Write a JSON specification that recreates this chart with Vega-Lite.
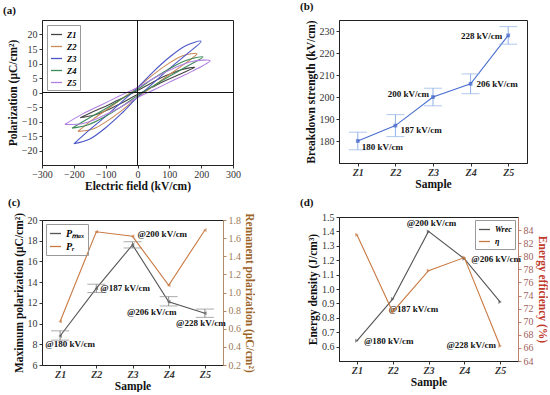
{
 "$schema": "https://vega.github.io/schema/vega-lite/v6.json",
 "background": "white",
 "padding": {"left": 2, "top": 0, "right": 0, "bottom": 0},
 "config": {
  "font": "Liberation Serif",
  "view": {"stroke": "#222", "strokeWidth": 1},
  "axis": {"grid": false, "labelFont": "Liberation Serif", "labelFontSize": 10, "labelColor": "#333", "titleFont": "Liberation Serif", "titleFontSize": 11.5, "titleFontWeight": "bold", "titleColor": "#111", "tickSize": 3, "tickColor": "#333", "domainColor": "#222", "labelPadding": 2, "titlePadding": 3, "labelOverlap": false, "labelFlush": false},
  "axisX": {"labelPadding": 1, "titlePadding": 1},
  "title": {"font": "Liberation Serif", "fontSize": 11, "fontWeight": "bold", "anchor": "start", "frame": "group", "offset": 2, "color": "#111"},
  "legend": {"labelFont": "Liberation Serif", "labelFontSize": 8.5, "labelFontWeight": "bold", "labelFontStyle": "italic", "strokeColor": "#999", "padding": 3, "rowPadding": 1, "symbolType": "stroke", "symbolStrokeWidth": 1.3, "symbolSize": 120}
 },
 "datasets": {
  "loops": [
   {"sample":"Z1","i":0,"E":-180,"P":-8.7},{"sample":"Z1","i":1,"E":-135,"P":-7.78},{"sample":"Z1","i":2,"E":-90,"P":-5.82},{"sample":"Z1","i":3,"E":-45,"P":-3.4},{"sample":"Z1","i":4,"E":0,"P":-0.68},{"sample":"Z1","i":5,"E":45,"P":1.77},{"sample":"Z1","i":6,"E":90,"P":4.19},{"sample":"Z1","i":7,"E":135,"P":6.42},{"sample":"Z1","i":8,"E":180,"P":8.7},{"sample":"Z1","i":9,"E":135,"P":7.78},{"sample":"Z1","i":10,"E":90,"P":5.82},{"sample":"Z1","i":11,"E":45,"P":3.4},{"sample":"Z1","i":12,"E":0,"P":0.68},{"sample":"Z1","i":13,"E":-45,"P":-1.77},{"sample":"Z1","i":14,"E":-90,"P":-4.19},{"sample":"Z1","i":15,"E":-135,"P":-6.42},{"sample":"Z1","i":16,"E":-180,"P":-8.7},
   {"sample":"Z2","i":0,"E":-187,"P":-13.4},{"sample":"Z2","i":1,"E":-140,"P":-12.6},{"sample":"Z2","i":2,"E":-93.5,"P":-9.71},{"sample":"Z2","i":3,"E":-47,"P":-5.98},{"sample":"Z2","i":4,"E":0,"P":-1.67},{"sample":"Z2","i":5,"E":47,"P":1.98},{"sample":"Z2","i":6,"E":93.5,"P":5.71},{"sample":"Z2","i":7,"E":140,"P":9.26},{"sample":"Z2","i":8,"E":187,"P":13.4},{"sample":"Z2","i":9,"E":140,"P":12.6},{"sample":"Z2","i":10,"E":93.5,"P":9.71},{"sample":"Z2","i":11,"E":47,"P":5.98},{"sample":"Z2","i":12,"E":0,"P":1.67},{"sample":"Z2","i":13,"E":-47,"P":-1.98},{"sample":"Z2","i":14,"E":-93.5,"P":-5.71},{"sample":"Z2","i":15,"E":-140,"P":-9.26},{"sample":"Z2","i":16,"E":-187,"P":-13.4},
   {"sample":"Z3","i":0,"E":-200,"P":-17.7},{"sample":"Z3","i":1,"E":-150,"P":-16.07},{"sample":"Z3","i":2,"E":-100,"P":-12.14},{"sample":"Z3","i":3,"E":-50,"P":-7.21},{"sample":"Z3","i":4,"E":0,"P":-1.63},{"sample":"Z3","i":5,"E":50,"P":3.3},{"sample":"Z3","i":6,"E":100,"P":8.22},{"sample":"Z3","i":7,"E":150,"P":12.81},{"sample":"Z3","i":8,"E":200,"P":17.7},{"sample":"Z3","i":9,"E":150,"P":16.07},{"sample":"Z3","i":10,"E":100,"P":12.14},{"sample":"Z3","i":11,"E":50,"P":7.21},{"sample":"Z3","i":12,"E":0,"P":1.63},{"sample":"Z3","i":13,"E":-50,"P":-3.3},{"sample":"Z3","i":14,"E":-100,"P":-8.22},{"sample":"Z3","i":15,"E":-150,"P":-12.81},{"sample":"Z3","i":16,"E":-200,"P":-17.7},
   {"sample":"Z4","i":0,"E":-206,"P":-12.3},{"sample":"Z4","i":1,"E":-154.5,"P":-11.12},{"sample":"Z4","i":2,"E":-103,"P":-8.38},{"sample":"Z4","i":3,"E":-51.5,"P":-4.96},{"sample":"Z4","i":4,"E":0,"P":-1.09},{"sample":"Z4","i":5,"E":51.5,"P":2.34},{"sample":"Z4","i":6,"E":103,"P":5.76},{"sample":"Z4","i":7,"E":154.5,"P":8.94},{"sample":"Z4","i":8,"E":206,"P":12.3},{"sample":"Z4","i":9,"E":154.5,"P":11.12},{"sample":"Z4","i":10,"E":103,"P":8.38},{"sample":"Z4","i":11,"E":51.5,"P":4.96},{"sample":"Z4","i":12,"E":0,"P":1.09},{"sample":"Z4","i":13,"E":-51.5,"P":-2.34},{"sample":"Z4","i":14,"E":-103,"P":-5.76},{"sample":"Z4","i":15,"E":-154.5,"P":-8.94},{"sample":"Z4","i":16,"E":-206,"P":-12.3},
   {"sample":"Z5","i":0,"E":-228,"P":-11.0},{"sample":"Z5","i":1,"E":-171,"P":-10.66},{"sample":"Z5","i":2,"E":-114,"P":-8.35},{"sample":"Z5","i":3,"E":-57,"P":-5.29},{"sample":"Z5","i":4,"E":0,"P":-1.69},{"sample":"Z5","i":5,"E":57,"P":1.24},{"sample":"Z5","i":6,"E":114,"P":4.3},{"sample":"Z5","i":7,"E":171,"P":7.28},{"sample":"Z5","i":8,"E":228,"P":11.0},{"sample":"Z5","i":9,"E":171,"P":10.66},{"sample":"Z5","i":10,"E":114,"P":8.35},{"sample":"Z5","i":11,"E":57,"P":5.29},{"sample":"Z5","i":12,"E":0,"P":1.69},{"sample":"Z5","i":13,"E":-57,"P":-1.24},{"sample":"Z5","i":14,"E":-114,"P":-4.3},{"sample":"Z5","i":15,"E":-171,"P":-7.28},{"sample":"Z5","i":16,"E":-228,"P":-11.0}
  ],
  "samples": [
   {"s":"Z1","bd":180,"bdlo":176,"bdhi":184,"bdl":"180 kV/cm","pmax":8.8,"plo":8.4,"phi":9.3,"pr":0.68,"w":0.64,"eta":83.3,"at":"@180 kV/cm"},
   {"s":"Z2","bd":187,"bdlo":182,"bdhi":192,"bdl":"187 kV/cm","pmax":13.4,"plo":13.0,"phi":13.8,"pr":1.67,"w":0.93,"eta":71.5,"at":"@187 kV/cm"},
   {"s":"Z3","bd":200,"bdlo":196,"bdhi":204,"bdl":"200 kV/cm","pmax":17.6,"plo":17.3,"phi":17.9,"pr":1.62,"w":1.4,"eta":77.8,"at":"@200 kV/cm"},
   {"s":"Z4","bd":206,"bdlo":201.5,"bdhi":210.5,"bdl":"206 kV/cm","pmax":12.1,"plo":11.7,"phi":12.6,"pr":1.08,"w":1.21,"eta":79.8,"at":"@206 kV/cm"},
   {"s":"Z5","bd":228,"bdlo":224,"bdhi":232,"bdl":"228 kV/cm","pmax":11.0,"plo":10.6,"phi":11.4,"pr":1.69,"w":0.91,"eta":66.3,"at":"@228 kV/cm"}
  ]
 },
 "spacing": 44,
 "resolve": {"scale": {"color": "independent"}, "legend": {"color": "independent"}},
 "hconcat": [
  {
   "bounds": "flush",
   "spacing": 55,
   "resolve": {"scale": {"color": "independent"}, "legend": {"color": "independent"}},
   "vconcat": [
    {
     "title": {"text": "(a)", "dx": -39, "offset": 4},
     "width": 191, "height": 145,
     "data": {"name": "loops"},
     "layer": [
      {"mark": {"type": "line", "strokeWidth": 1.1, "interpolate": "catmull-rom"},
       "encoding": {
        "x": {"field": "E", "type": "quantitative", "title": "Electric field (kV/cm)", "scale": {"domain": [-300, 300]}, "axis": {"values": [-300,-200,-100,0,100,200,300], "tickCount": 30, "format": "d"}},
        "y": {"field": "P", "type": "quantitative", "title": "Polarization (μC/cm²)", "scale": {"domain": [-22.5, 22.5]}, "axis": {"values": [-20,-15,-10,-5,0,5,10,15,20], "tickCount": 30, "format": "d"}},
        "color": {"field": "sample", "type": "nominal", "scale": {"domain": ["Z1","Z2","Z3","Z4","Z5"], "range": ["#444444","#c98b5a","#4a55c8","#3d8a5a","#b07fe0"]}, "legend": {"orient": "top-left", "offset": 5, "title": null}},
        "order": {"field": "i", "type": "quantitative"}
       }},
      {"mark": {"type": "rule", "color": "#111", "strokeWidth": 1}, "encoding": {"x": {"datum": 0, "type": "quantitative", "title": "Electric field (kV/cm)"}}},
      {"mark": {"type": "rule", "color": "#111", "strokeWidth": 1}, "encoding": {"y": {"datum": 0, "type": "quantitative", "title": "Polarization (μC/cm²)"}}}
     ]
    },
    {
     "title": {"text": "(c)", "dx": -34, "offset": 4},
     "width": 181, "height": 145,
     "data": {"name": "samples"},
     "resolve": {"scale": {"y": "independent"}},
     "layer": [
      {"layer": [
        {"mark": {"type": "line", "color": "#555555", "strokeWidth": 1.1},
         "encoding": {
          "x": {"field": "s", "type": "ordinal", "title": "Sample", "scale": {"type": "point", "padding": 0.5}, "axis": {"labelAngle": 0, "labelFontStyle": "italic", "labelFontWeight": "bold"}},
          "y": {"field": "pmax", "type": "quantitative", "title": "Maximum polarization (μC/cm²)", "scale": {"domain": [6, 20]}, "axis": {"values": [6,8,10,12,14,16,18,20], "tickCount": 30, "format": "d"}},
          "color": {"datum": "Pmax", "scale": {"domain": ["Pmax","Pr"], "range": ["#555555","#c87941"]}, "legend": {"orient": "top-left", "offset": 4, "title": null, "labelExpr": "datum.label === 'Pmax' ? 'Pₘₐₓ' : 'Pᵣ'", "labelFontSize": 10}}
         }},
        {"mark": {"type": "errorbar", "ticks": true, "color": "#888888"},
         "encoding": {"x": {"field": "s", "type": "ordinal", "title": "Sample"}, "y": {"field": "plo", "type": "quantitative", "title": "Maximum polarization (μC/cm²)"}, "y2": {"field": "phi"}}},
        {"mark": {"type": "point", "shape": "triangle-left", "filled": true, "size": 16, "color": "#555555"},
         "encoding": {"x": {"field": "s", "type": "ordinal", "title": "Sample"}, "y": {"field": "pmax", "type": "quantitative", "title": "Maximum polarization (μC/cm²)"}}},
        {"transform": [{"filter": "datum.s === 'Z1'"}], "mark": {"type": "text", "align": "center", "dx": 10, "dy": 8, "fontSize": 9, "fontWeight": "bold", "color": "#111"},
         "encoding": {"x": {"field": "s", "type": "ordinal", "title": "Sample"}, "y": {"field": "pmax", "type": "quantitative", "title": "Maximum polarization (μC/cm²)"}, "text": {"field": "at"}}},
        {"transform": [{"filter": "datum.s === 'Z2'"}], "mark": {"type": "text", "align": "left", "dx": 4, "dy": 0, "fontSize": 9, "fontWeight": "bold", "color": "#111"},
         "encoding": {"x": {"field": "s", "type": "ordinal", "title": "Sample"}, "y": {"field": "pmax", "type": "quantitative", "title": "Maximum polarization (μC/cm²)"}, "text": {"field": "at"}}},
        {"transform": [{"filter": "datum.s === 'Z3'"}], "mark": {"type": "text", "align": "left", "dx": 5, "dy": -11, "fontSize": 9, "fontWeight": "bold", "color": "#111"},
         "encoding": {"x": {"field": "s", "type": "ordinal", "title": "Sample"}, "y": {"field": "pmax", "type": "quantitative", "title": "Maximum polarization (μC/cm²)"}, "text": {"field": "at"}}},
        {"transform": [{"filter": "datum.s === 'Z4'"}], "mark": {"type": "text", "align": "center", "dx": -17, "dy": 10, "fontSize": 9, "fontWeight": "bold", "color": "#111"},
         "encoding": {"x": {"field": "s", "type": "ordinal", "title": "Sample"}, "y": {"field": "pmax", "type": "quantitative", "title": "Maximum polarization (μC/cm²)"}, "text": {"field": "at"}}},
        {"transform": [{"filter": "datum.s === 'Z5'"}], "mark": {"type": "text", "align": "center", "dx": -4, "dy": 10, "fontSize": 9, "fontWeight": "bold", "color": "#111"},
         "encoding": {"x": {"field": "s", "type": "ordinal", "title": "Sample"}, "y": {"field": "pmax", "type": "quantitative", "title": "Maximum polarization (μC/cm²)"}, "text": {"field": "at"}}}
      ]},
      {"layer": [
        {"mark": {"type": "line", "strokeWidth": 1.1},
         "encoding": {
          "x": {"field": "s", "type": "ordinal", "title": "Sample"},
          "y": {"field": "pr", "type": "quantitative", "title": "Remanent polarization (μC/cm²)", "scale": {"domain": [0.2, 1.8]}, "axis": {"orient": "right", "values": [0.2,0.4,0.6,0.8,1.0,1.2,1.4,1.6,1.8], "tickCount": 30, "format": ".1f", "labelColor": "#9a7a5a", "titleColor": "#9b6326", "tickColor": "#b08a6a", "domainColor": "#b08a6a"}},
          "color": {"datum": "Pr"}
         }},
        {"mark": {"type": "point", "shape": "triangle-left", "filled": true, "size": 16, "color": "#c87941"},
         "encoding": {"x": {"field": "s", "type": "ordinal", "title": "Sample"}, "y": {"field": "pr", "type": "quantitative", "title": "Remanent polarization (μC/cm²)"}}}
      ]}
     ]
    }
   ]
  },
  {
   "bounds": "flush",
   "spacing": 54,
   "resolve": {"scale": {"color": "independent"}, "legend": {"color": "independent"}},
   "vconcat": [
    {
     "title": {"text": "(b)", "dx": -39, "offset": 8},
     "width": 188, "height": 143,
     "data": {"name": "samples"},
     "layer": [
      {"mark": {"type": "line", "color": "#4a6fd0", "strokeWidth": 1.1},
       "encoding": {
        "x": {"field": "s", "type": "ordinal", "title": "Sample", "scale": {"type": "point", "padding": 0.5}, "axis": {"labelAngle": 0, "labelFontStyle": "italic", "labelFontWeight": "bold"}},
        "y": {"field": "bd", "type": "quantitative", "title": "Breakdown strength (kV/cm)", "scale": {"domain": [170, 234.5]}, "axis": {"values": [180,190,200,210,220,230], "tickCount": 30, "format": "d"}}
       }},
      {"mark": {"type": "errorbar", "ticks": true, "color": "#8fb0e8"},
       "encoding": {"x": {"field": "s", "type": "ordinal", "title": "Sample"}, "y": {"field": "bdlo", "type": "quantitative", "title": "Breakdown strength (kV/cm)"}, "y2": {"field": "bdhi"}}},
      {"mark": {"type": "point", "shape": "square", "filled": true, "size": 14, "color": "#3f5fc8"},
       "encoding": {"x": {"field": "s", "type": "ordinal", "title": "Sample"}, "y": {"field": "bd", "type": "quantitative", "title": "Breakdown strength (kV/cm)"}}},
      {"transform": [{"filter": "datum.s === 'Z1'"}], "mark": {"type": "text", "align": "left", "dx": 4, "dy": 6, "fontSize": 9, "fontWeight": "bold", "color": "#111"},
       "encoding": {"x": {"field": "s", "type": "ordinal", "title": "Sample"}, "y": {"field": "bd", "type": "quantitative", "title": "Breakdown strength (kV/cm)"}, "text": {"field": "bdl"}}},
      {"transform": [{"filter": "datum.s === 'Z2'"}], "mark": {"type": "text", "align": "left", "dx": 5, "dy": 4, "fontSize": 9, "fontWeight": "bold", "color": "#111"},
       "encoding": {"x": {"field": "s", "type": "ordinal", "title": "Sample"}, "y": {"field": "bd", "type": "quantitative", "title": "Breakdown strength (kV/cm)"}, "text": {"field": "bdl"}}},
      {"transform": [{"filter": "datum.s === 'Z3'"}], "mark": {"type": "text", "align": "right", "dx": -4, "dy": -3, "fontSize": 9, "fontWeight": "bold", "color": "#111"},
       "encoding": {"x": {"field": "s", "type": "ordinal", "title": "Sample"}, "y": {"field": "bd", "type": "quantitative", "title": "Breakdown strength (kV/cm)"}, "text": {"field": "bdl"}}},
      {"transform": [{"filter": "datum.s === 'Z4'"}], "mark": {"type": "text", "align": "left", "dx": 6, "dy": 0, "fontSize": 9, "fontWeight": "bold", "color": "#111"},
       "encoding": {"x": {"field": "s", "type": "ordinal", "title": "Sample"}, "y": {"field": "bd", "type": "quantitative", "title": "Breakdown strength (kV/cm)"}, "text": {"field": "bdl"}}},
      {"transform": [{"filter": "datum.s === 'Z5'"}], "mark": {"type": "text", "align": "right", "dx": -6, "dy": 1, "fontSize": 9, "fontWeight": "bold", "color": "#111"},
       "encoding": {"x": {"field": "s", "type": "ordinal", "title": "Sample"}, "y": {"field": "bd", "type": "quantitative", "title": "Breakdown strength (kV/cm)"}, "text": {"field": "bdl"}}}
     ]
    },
    {
     "title": {"text": "(d)", "dx": -39, "offset": 4},
     "width": 179, "height": 144,
     "data": {"name": "samples"},
     "resolve": {"scale": {"y": "independent"}},
     "layer": [
      {"layer": [
        {"mark": {"type": "line", "strokeWidth": 1.1},
         "encoding": {
          "x": {"field": "s", "type": "ordinal", "title": "Sample", "scale": {"type": "point", "padding": 0.5}, "axis": {"labelAngle": 0, "labelFontStyle": "italic", "labelFontWeight": "bold"}},
          "y": {"field": "w", "type": "quantitative", "title": "Energy density (J/cm³)", "scale": {"domain": [0.55, 1.5]}, "axis": {"values": [0.6,0.7,0.8,0.9,1.0,1.1,1.2,1.3,1.4,1.5], "tickCount": 30, "format": ".1f"}},
          "color": {"datum": "W", "scale": {"domain": ["W","eta"], "range": ["#555555","#c87941"]}, "legend": {"orient": "top-right", "offset": 3, "title": null, "labelExpr": "datum.label === 'W' ? 'Wrec' : 'η'", "labelFontSize": 8}}
         }},
        {"mark": {"type": "point", "shape": "triangle-right", "filled": true, "size": 16, "color": "#555555"},
         "encoding": {"x": {"field": "s", "type": "ordinal", "title": "Sample"}, "y": {"field": "w", "type": "quantitative", "title": "Energy density (J/cm³)"}}},
        {"transform": [{"filter": "datum.s === 'Z1'"}], "mark": {"type": "text", "align": "left", "dx": 7, "dy": 0, "fontSize": 9, "fontWeight": "bold", "color": "#111"},
         "encoding": {"x": {"field": "s", "type": "ordinal", "title": "Sample"}, "y": {"field": "w", "type": "quantitative", "title": "Energy density (J/cm³)"}, "text": {"field": "at"}}},
        {"transform": [{"filter": "datum.s === 'Z2'"}], "mark": {"type": "text", "align": "left", "dx": -4, "dy": 10, "fontSize": 9, "fontWeight": "bold", "color": "#111"},
         "encoding": {"x": {"field": "s", "type": "ordinal", "title": "Sample"}, "y": {"field": "w", "type": "quantitative", "title": "Energy density (J/cm³)"}, "text": {"field": "at"}}},
        {"transform": [{"filter": "datum.s === 'Z3'"}], "mark": {"type": "text", "align": "center", "dx": 3, "dy": -8, "fontSize": 9, "fontWeight": "bold", "color": "#111"},
         "encoding": {"x": {"field": "s", "type": "ordinal", "title": "Sample"}, "y": {"field": "w", "type": "quantitative", "title": "Energy density (J/cm³)"}, "text": {"field": "at"}}},
        {"transform": [{"filter": "datum.s === 'Z4'"}], "mark": {"type": "text", "align": "left", "dx": 7, "dy": 0, "fontSize": 9, "fontWeight": "bold", "color": "#111"},
         "encoding": {"x": {"field": "s", "type": "ordinal", "title": "Sample"}, "y": {"field": "w", "type": "quantitative", "title": "Energy density (J/cm³)"}, "text": {"field": "at"}}}
      ]},
      {"layer": [
        {"mark": {"type": "line", "strokeWidth": 1.1},
         "encoding": {
          "x": {"field": "s", "type": "ordinal", "title": "Sample"},
          "y": {"field": "eta", "type": "quantitative", "title": "Energy efficiency (%)", "scale": {"domain": [64, 85]}, "axis": {"orient": "right", "values": [64,66,68,70,72,74,76,78,80,82,84], "tickCount": 30, "format": "d", "labelColor": "#a0605a", "titleColor": "#c0392b", "tickColor": "#c08070", "domainColor": "#c08070"}},
          "color": {"datum": "eta"}
         }},
        {"mark": {"type": "point", "shape": "triangle-right", "filled": true, "size": 16, "color": "#c87941"},
         "encoding": {"x": {"field": "s", "type": "ordinal", "title": "Sample"}, "y": {"field": "eta", "type": "quantitative", "title": "Energy efficiency (%)"}}},
        {"transform": [{"filter": "datum.s === 'Z5'"}], "mark": {"type": "text", "align": "right", "dx": -4, "dy": -1, "fontSize": 9, "fontWeight": "bold", "color": "#111"},
         "encoding": {"x": {"field": "s", "type": "ordinal", "title": "Sample"}, "y": {"field": "eta", "type": "quantitative", "title": "Energy efficiency (%)"}, "text": {"field": "at"}}}
      ]}
     ]
    }
   ]
  }
 ]
}
